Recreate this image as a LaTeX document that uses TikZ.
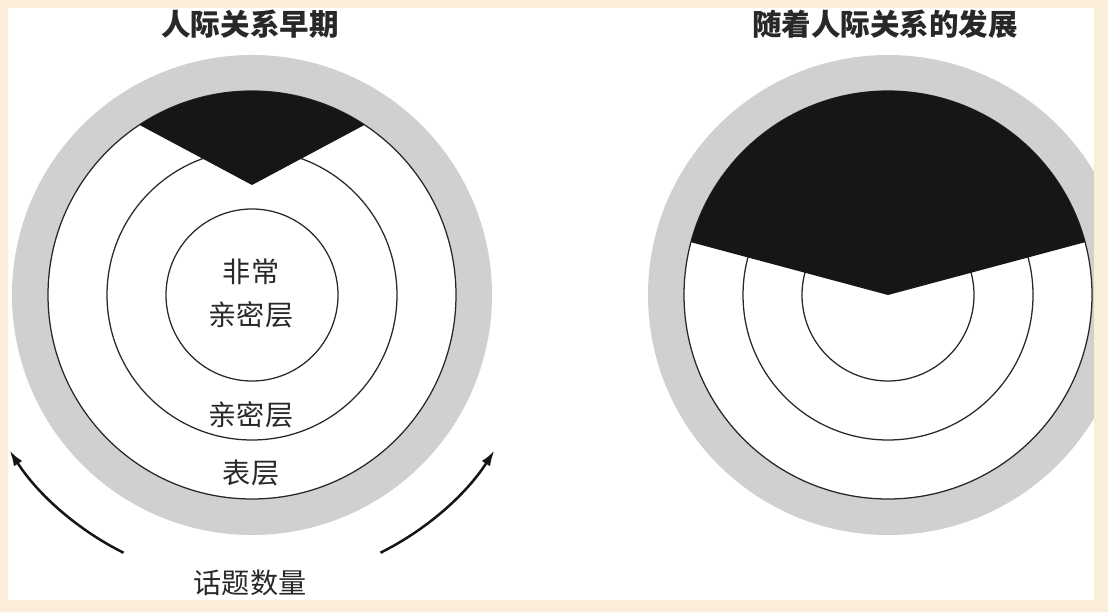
\documentclass[tikz,border=0pt]{standalone}
\usepackage{fontspec}
\newfontfamily\cjk{Noto Sans CJK SC}
\usepackage{tikz}
\usetikzlibrary{arrows.meta}
\definecolor{FrameCream}{RGB}{250,238,219}
\definecolor{RingGray}  {RGB}{208,208,208}
\definecolor{InkBlack}  {RGB}{22, 22, 22}
\definecolor{TextGray}  {RGB}{40, 40, 40}

\begin{document}
\begin{tikzpicture}[
  x=0.025cm, y=0.025cm,
  layer/.style={
    draw=TextGray, line width=0.9pt},
  heading/.style={
    font=\cjk\fontsize{21}{21}\selectfont\bfseries,
    text=TextGray, inner sep=0pt},
  layertext/.style={
    font=\cjk\fontsize{20}{20}\selectfont,
    text=TextGray, inner sep=0pt},
  topicarrow/.style={
    -{Latex[length=11pt,width=7pt]},
    line width=1.8pt,
    draw=InkBlack}
]
\useasboundingbox (0,0) rectangle (1108,612);

\fill[FrameCream] (0,0) rectangle (1108,612);
\fill[white] (8,12) rectangle (1094,604);

\coordinate (early) at (252,317);
\coordinate (later) at (888,317);
\coordinate (earlytip) at (252,427);

\foreach \c in {early,later}{
  \fill[RingGray] (\c) circle (240);
  \fill[white] (\c) circle (204);
  \foreach \r in {204,145,86}
    \draw[layer] (\c) circle (\r);
}

\fill[InkBlack] (earlytip) --
  ([shift={(123.5:204)}]early) arc (123.5:56.5:204) -- cycle;
\fill[InkBlack] (later) --
  ([shift={(165:204)}]later) arc (165:15:204) -- cycle;

\draw[topicarrow] ([shift={(-116.5:288)}]early)
  arc (-116.5:-147.3:288);
\draw[topicarrow] ([shift={(-63.5:288)}]early)
  arc (-63.5:-32.7:288);

\node[heading] (earlytitle) at (250,588) {人际关系早期};
\node[heading] (latertitle) at (885,588) {随着人际关系的发展};

\node[layertext] (core1) at (251,340) {非常};
\node[layertext] (core2) at (251,297) {亲密层};
\node[layertext] (intimate) at (251,197) {亲密层};
\node[layertext] (surface) at (251,139) {表层};
\node[layertext] (topics) at (250,29) {话题数量};

\fill[FrameCream, even odd rule] (0,0) rectangle (1108,612)
  (8,12) rectangle (1094,604);
\end{tikzpicture}
\end{document}
